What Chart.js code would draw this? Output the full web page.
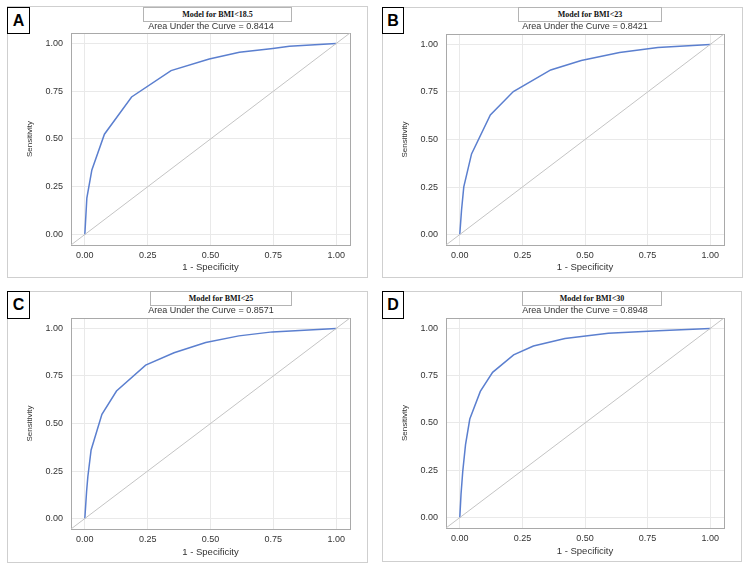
<!DOCTYPE html>
<html>
<head>
<meta charset="utf-8">
<script src="https://cdn.jsdelivr.net/npm/chart.js@4"></script>
<style>
  body { margin: 0; background: #fff; }
  #page { position: relative; width: 750px; height: 569px; overflow: hidden; }
  canvas { position: absolute; }
  .panel { position: absolute; border: 1px solid #cfcfcf; box-sizing: border-box; }
  .letter { position: absolute; border: 1px solid #000; background: #fff; box-sizing: border-box;
            font: bold 16px 'Liberation Sans', sans-serif; text-align: center; color: #000; }
  .model { position: absolute; border: 1px solid #b4b4b4; background: #fff; box-sizing: border-box;
           font: bold 8px 'Liberation Serif', serif; text-align: center; color: #111; line-height: 13px; }
  .auc { position: absolute; font: 9px 'Liberation Sans', sans-serif; color: #333; line-height: 10px;
         transform: translateX(-50%); white-space: nowrap; }
</style>
</head>
<body>
<div id="page"></div>
<script>
// tick labels shared by all four panels
const tickValues = [0, 0.25, 0.5, 0.75, 1]

const panelLetters = ['A', 'B', 'C', 'D']
const modelNames = ['Model for BMI<18.5', 'Model for BMI<23', 'Model for BMI<25', 'Model for BMI<30']
const aucValues = ['0.8414', '0.8421', '0.8571', '0.8948']

// ROC curves, 1 - specificity vs sensitivity
const fprA = [0, 0.008, 0.028, 0.078, 0.186, 0.343, 0.495, 0.615, 0.748, 0.814, 1]
const tprA = [0, 0.19, 0.338, 0.525, 0.72, 0.858, 0.919, 0.954, 0.974, 0.985, 1]

const fprB = [0, 0.007, 0.016, 0.047, 0.122, 0.214, 0.363, 0.485, 0.638, 0.791, 1]
const tprB = [0, 0.128, 0.251, 0.424, 0.629, 0.752, 0.866, 0.916, 0.958, 0.984, 1]

const fprC = [0, 0.007, 0.012, 0.025, 0.068, 0.126, 0.242, 0.355, 0.481, 0.613, 0.746, 1]
const tprC = [0, 0.142, 0.22, 0.361, 0.548, 0.671, 0.807, 0.872, 0.926, 0.961, 0.982, 1]

const fprD = [0, 0.005, 0.012, 0.023, 0.04, 0.082, 0.131, 0.215, 0.294, 0.42, 0.593, 0.792, 1]
const tprD = [0, 0.123, 0.246, 0.386, 0.521, 0.667, 0.768, 0.86, 0.907, 0.947, 0.974, 0.988, 1]

// chance diagonal, runs past the axis range and gets clipped
const chanceX = [-0.1, 1.1]
const chanceY = [-0.1, 1.1]

const curves = [[fprA, tprA], [fprB, tprB], [fprC, tprC], [fprD, tprD]]

// where each panel sits on the page
const layout = [
    { box: [7, 6, 368, 278], plot: [71, 33, 350, 245], letter: [7, 7, 23, 27], model: [143, 7, 149, 15], auc: [211, 26] },
    { box: [382, 7, 743, 278], plot: [446, 34, 724, 245], letter: [382, 7, 22, 27], model: [518, 7, 144, 15], auc: [585, 26] },
    { box: [7, 291, 368, 563], plot: [71, 318, 350, 529], letter: [7, 291, 23, 28], model: [150, 291, 142, 15], auc: [211, 310] },
    { box: [382, 291, 742, 562], plot: [446, 318, 724, 528], letter: [382, 291, 22, 28], model: [522, 291, 140, 15], auc: [585, 310] }
]

const page = document.getElementById('page')

const frame = {
    id: 'frame',
    beforeDatasetsDraw(chart) {
        const { ctx, chartArea: a } = chart
        ctx.save()
        ctx.strokeStyle = '#a9a9a9'
        ctx.lineWidth = 1
        ctx.strokeRect(Math.round(a.left) + 0.5, Math.round(a.top) + 0.5,
            Math.round(a.right - a.left), Math.round(a.bottom - a.top))
        ctx.restore()
    }
}

function toPoints(xs, ys) {
    return xs.map((x, i) => ({ x: x, y: ys[i] }))
}

function addDiv(cls, x, y, w, h, text) {
    const d = document.createElement('div')
    d.className = cls
    d.style.left = x + 'px'
    d.style.top = y + 'px'
    if (w) d.style.width = w + 'px'
    if (h) d.style.height = h + 'px'
    d.textContent = text
    page.appendChild(d)
    return d
}

layout.forEach((p, i) => {
    const [bx0, by0, bx1, by1] = p.box
    const [pl, pt, pr, pb] = p.plot
    const canvas = document.createElement('canvas')
    canvas.width = bx1 - bx0
    canvas.height = by1 - by0
    canvas.style.left = bx0 + 'px'
    canvas.style.top = by0 + 'px'
    page.appendChild(canvas)

    const tickFont = { family: 'Liberation Sans', size: 9 }
    const axis = {
        type: 'linear',
        min: -0.055,
        max: 1.055,
        afterBuildTicks: scale => { scale.ticks = tickValues.map(v => ({ value: v })) },
        grid: { color: '#e9e9e9', drawTicks: false },
        border: { display: false },
        ticks: { color: '#333', font: tickFont, callback: v => v.toFixed(2) }
    }

    new Chart(canvas, {
        type: 'scatter',
        data: {
            datasets: [
                {
                    data: toPoints(chanceX, chanceY),
                    showLine: true,
                    borderColor: '#c4c4c4',
                    borderWidth: 1,
                    pointRadius: 0
                },
                {
                    data: toPoints(curves[i][0], curves[i][1]),
                    showLine: true,
                    borderColor: '#5b7fcf',
                    borderWidth: 1.5,
                    pointRadius: 0,
                    tension: 0
                }
            ]
        },
        options: {
            responsive: false,
            animation: false,
            events: [],
            layout: { padding: { top: pt - by0, right: bx1 - pr, left: 0, bottom: 0 } },
            plugins: { legend: { display: false }, tooltip: { enabled: false } },
            scales: {
                x: {
                    ...axis,
                    afterFit: scale => { scale.height = by1 - pb },
                    ticks: { ...axis.ticks, padding: 5, maxRotation: 0 },
                    title: {
                        display: true,
                        text: '1 - Specificity',
                        color: '#333',
                        font: { family: 'Liberation Sans', size: 9.5 },
                        padding: { top: 0, bottom: 5 }
                    }
                },
                y: {
                    ...axis,
                    afterFit: scale => { scale.width = pl - bx0 },
                    ticks: { ...axis.ticks, padding: 8 },
                    title: {
                        display: true,
                        text: 'Sensitivity',
                        color: '#333',
                        font: { family: 'Liberation Sans', size: 8 },
                        padding: { top: 18, bottom: 0 }
                    }
                }
            }
        },
        plugins: [frame]
    })

    addDiv('panel', bx0, by0, bx1 - bx0, by1 - by0, '')
    const lt = addDiv('letter', p.letter[0], p.letter[1], p.letter[2], p.letter[3], panelLetters[i])
    lt.style.lineHeight = (p.letter[3] - 2) + 'px'
    addDiv('model', p.model[0], p.model[1], p.model[2], p.model[3], modelNames[i])
    addDiv('auc', p.auc[0], p.auc[1] - 5, 0, 0, 'Area Under the Curve = ' + aucValues[i]).style.width = 'auto'
})
</script>
</body>
</html>
